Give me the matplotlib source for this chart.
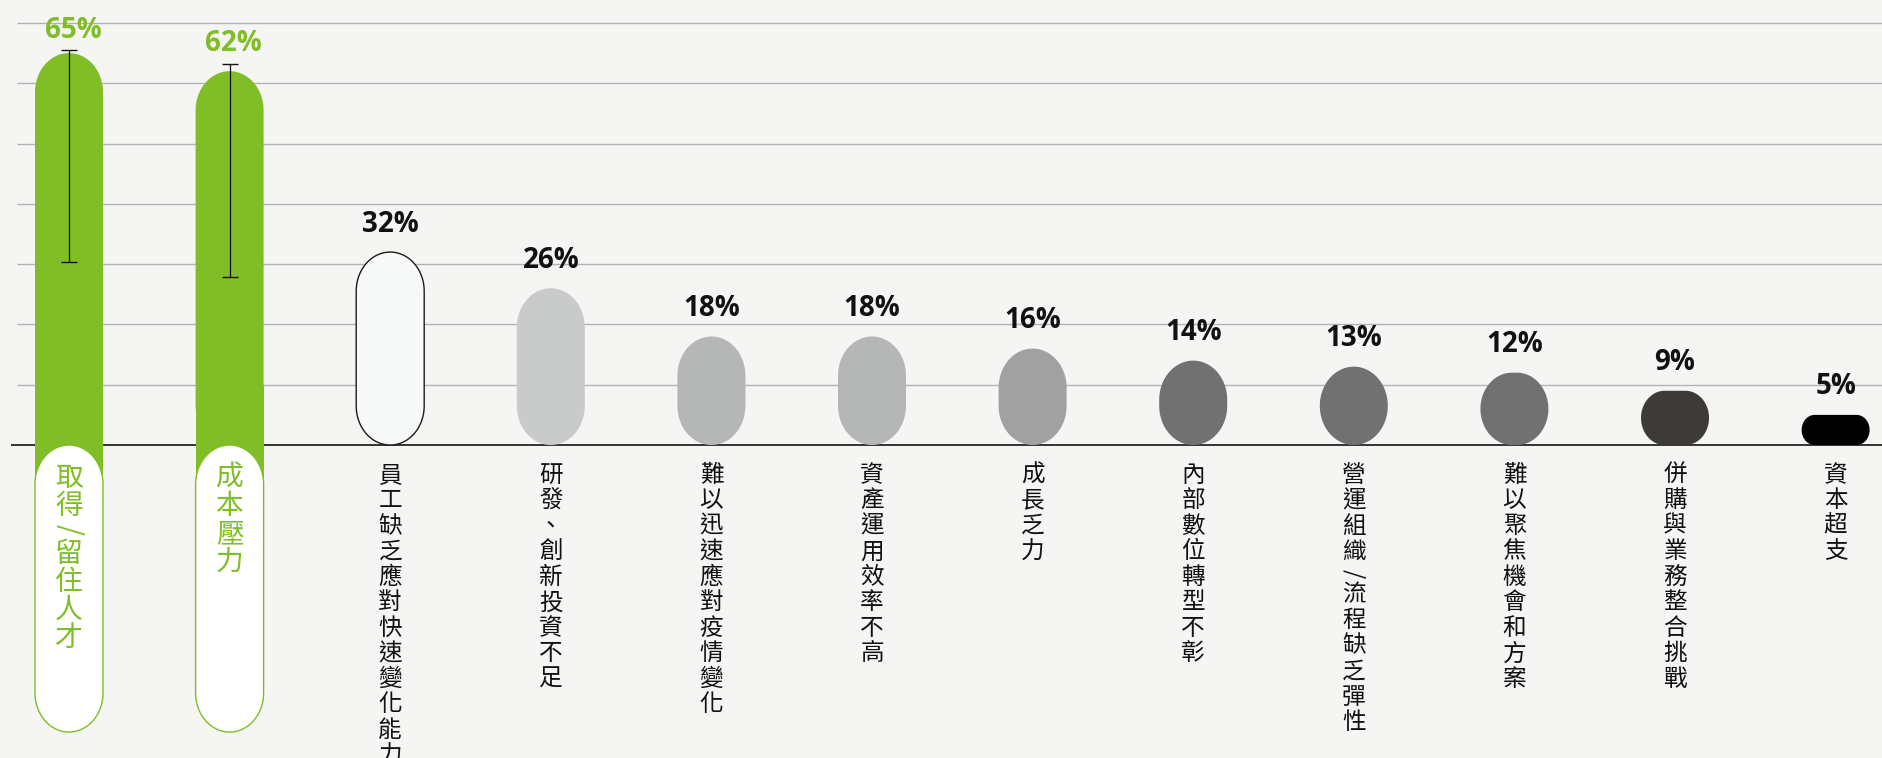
import numpy as np
import matplotlib.pyplot as plt
from matplotlib.patches import Polygon, Rectangle

categories = ['取得/留住人才', '成本壓力', '員工缺乏應對快速變化能力', '研發、創新投資不足',
              '難以迅速應對疫情變化', '資產運用效率不高', '成長乏力', '內部數位轉型不彰',
              '營運組織/流程缺乏彈性', '難以聚焦機會和方案', '併購與業務整合挑戰', '資本超支']
values = [65, 62, 32, 26, 18, 18, 16, 14, 13, 12, 9, 5]
bar_colors = ['#80bd27', '#80bd27', '#f7f9f9', '#c9caca', '#b5b6b6', '#b5b6b6',
              '#a0a1a0', '#717171', '#717171', '#717171', '#3e3a39', '#000000']
# range lines on the two highlighted bars
err_low = [30.3, 27.9]
err_high = [65.5, 63.2]
grid_levels = [10, 20, 30, 40, 50, 60, 70]

GREEN = '#80bd27'
BG = '#f5f5f3'

W, H, DPI = 1883, 758, 100
fig = plt.figure(figsize=(W / DPI, H / DPI), dpi=DPI, facecolor=BG)
ax = fig.add_axes([0, 0, 1, 1])
ax.set_facecolor(BG)
xlim = (-0.4296, 11.295)
ylim = (-51.9, 73.8)
ax.set_xlim(*xlim)
ax.set_ylim(*ylim)
ax.axis('off')

# y units per x unit on screen
aspect = ((ylim[1] - ylim[0]) / H) / ((xlim[1] - xlim[0]) / W)
bar_w = 0.4234
stretch = 1.15  # caps are slightly taller than wide


def pill(xc, y0, h, **kw):
    ry = min(bar_w / 2 * aspect * stretch, h / 2)
    rx = min(bar_w / 2, ry / aspect / stretch)
    x0, x1 = xc - bar_w / 2, xc + bar_w / 2
    y1 = y0 + h
    t = np.linspace(0, np.pi / 2, 24)
    centers = [(x1 - rx, y1 - ry), (x0 + rx, y1 - ry), (x0 + rx, y0 + ry), (x1 - rx, y0 + ry)]
    pts = []
    for k, (cx, cy) in enumerate(centers):
        a = t + k * np.pi / 2
        pts.append(np.column_stack([cx + rx * np.cos(a), cy + ry * np.sin(a)]))
    ax.add_patch(Polygon(np.vstack(pts), closed=True, **kw))


def vlabel(xc, text, size, color, step, start, weight='normal'):
    # stack characters top to bottom below the baseline (offsets in px)
    pos = start
    for ch in text:
        slash = ch == '/'
        adv = step * 0.7 if slash else step
        c = pos + adv / 2
        ax.annotate(ch, xy=(xc, 0), xytext=(0, -c * 72 / DPI),
                    textcoords='offset points', ha='center', va='center',
                    fontsize=size, color=color, weight=weight,
                    rotation=-90 if slash else 0,
                    family=['Noto Sans CJK TC', 'DejaVu Sans'], zorder=6)
        pos += adv


ax.hlines(grid_levels, -0.324, xlim[1], color='#b3b3b3', lw=1.0, zorder=1)
ax.hlines(0, -0.361, xlim[1], color='black', lw=1.1, zorder=2)

num_font = ['Open Sans', 'DejaVu Sans']
for i, (cat, v, col) in enumerate(zip(categories, values, bar_colors)):
    if i < 2:
        pill(i, 0, v, facecolor=col, edgecolor='none', zorder=3)
        ax.add_patch(Rectangle((i - bar_w / 2, -6), bar_w, 6 + min(v, 10),
                               facecolor=col, edgecolor='none', zorder=3))
        pill(i, -47.6, 47.6, facecolor='white', edgecolor=GREEN, lw=1.0, zorder=4)
        ax.errorbar(i, (err_low[i] + err_high[i]) / 2,
                    yerr=(err_high[i] - err_low[i]) / 2,
                    fmt='none', ecolor='#111111', elinewidth=0.9, capsize=6,
                    capthick=1.0, zorder=5)
        ax.annotate(f'{v}%', xy=(i, err_high[i]), xytext=(3, 20 * 72 / DPI),
                    textcoords='offset points', ha='center', va='center',
                    fontsize=20, weight='bold', color=GREEN, family=num_font)
        vlabel(i, cat, 20, GREEN, 28, 19)
    else:
        edge = '#231815' if i == 2 else 'none'
        pill(i, 0, v, facecolor=col, edgecolor=edge, lw=1.0, zorder=3)
        ax.annotate(f'{v}%', xy=(i, v), xytext=(0, 28 * 72 / DPI),
                    textcoords='offset points', ha='center', va='center',
                    fontsize=20, weight='bold', color='#111111', family=num_font)
        vlabel(i, cat, 17, '#111111', 25.5, 17.5, weight='medium')

fig.savefig('out.png', dpi=DPI, facecolor=BG)
